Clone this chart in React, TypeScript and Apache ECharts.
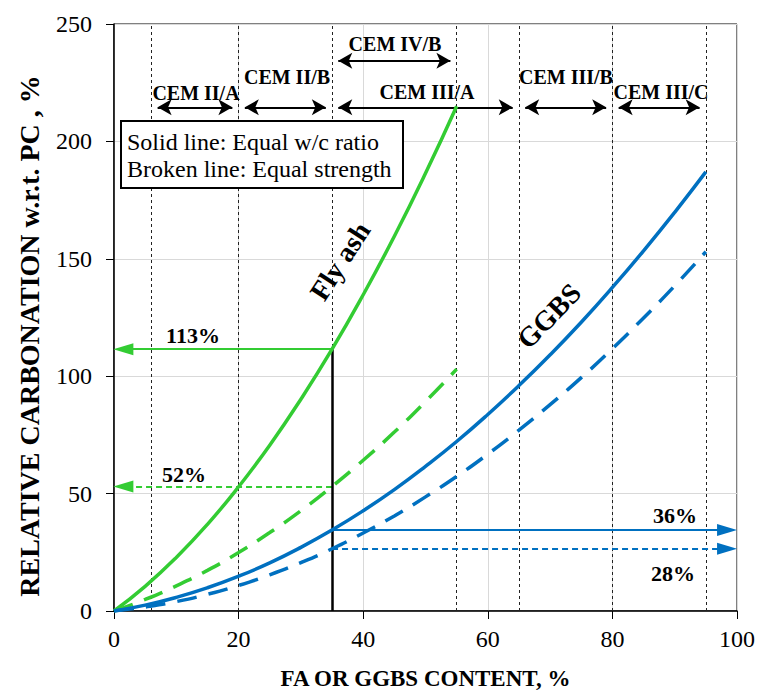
import React, { useEffect, useRef } from "react";
import * as echarts from "echarts";

const xTicks = [0, 20, 40, 60, 80, 100];
const yTicks = [0, 50, 100, 150, 200, 250];

const faContent = [0, 5, 10, 15, 20, 25, 30, 35, 40, 45, 50, 55];
const flyAshEqualWc = [0, 10.5, 22.8, 36.9, 52.9, 70.6, 90.2, 111.5, 134.7, 159.6, 186.4, 215];
const flyAshEqualStrength = [0, 4.9, 10.7, 17.3, 24.9, 33.4, 42.7, 53, 64.2, 76.2, 89.2, 103];

const ggbsContent = [0, 5, 10, 15, 20, 25, 30, 35, 40, 45, 50, 55, 60, 65, 70, 75, 80, 85, 90, 95];
const ggbsEqualWc = [0, 2.5, 5.8, 9.9, 14.8, 20.5, 27.1, 34.5, 42.7, 51.7, 61.6, 72.2, 83.7, 96, 109.1, 123, 137.8, 153.4, 169.8, 187];
const ggbsEqualStrength = [0, 1.7, 4.0, 7.1, 10.9, 15.4, 20.6, 26.5, 33.2, 40.5, 48.6, 57.3, 66.8, 77, 87.9, 99.4, 111.7, 124.8, 138.5, 153];

const cementBoundaries = [6, 20, 35, 55, 65, 80, 95];
const cementRanges: [number, number][] = [[6, 20], [20, 35], [35, 65], [65, 80], [80, 95]];
const cemIVB: [number, number] = [35, 55];
const cementRowY = 214.5;
const cemIVBY = 234.3;

const readAt = 35;
const faWcValue = 111.5;
const faStrValue = 53;
const ggWcValue = 34.5;
const ggStrValue = 26.5;

const GREEN = "#33CC33";
const BLUE = "#0070C0";
const SERIF = '"Liberation Serif", "Times New Roman", serif';

export default function App() {
  const ref = useRef<HTMLDivElement>(null);
  useEffect(() => {
    if (!ref.current) return;
    const chart = echarts.init(ref.current, undefined, { renderer: "svg" });
    const pair = (xs: number[], ys: number[]) => xs.map((x, i) => [x, ys[i]]);

    const arrowOff = 1.0;
    const topArrows = cementRanges.map(([a, b]) => [
      { coord: [a + arrowOff, cementRowY] },
      { coord: [b - arrowOff, cementRowY] },
    ]);
    topArrows.push([
      { coord: [cemIVB[0] + arrowOff, cemIVBY] },
      { coord: [cemIVB[1] - arrowOff, cemIVBY] },
    ]);

    const option: any = {
      animation: false,
      grid: { left: 114, right: 20, top: 24, bottom: 81, show: true, borderColor: "#000", borderWidth: 1 },
      xAxis: {
        type: "value",
        min: xTicks[0],
        max: xTicks[xTicks.length - 1],
        interval: 20,
        name: "FA OR GGBS CONTENT, %",
        nameLocation: "middle",
        nameGap: 56,
        nameTextStyle: { fontFamily: SERIF, fontWeight: "bold", fontSize: 23, color: "#000" },
        axisLine: { lineStyle: { color: "#000", width: 1.5 } },
        axisTick: { show: true, inside: false, length: 8, lineStyle: { color: "#000", width: 1 } },
        axisLabel: { fontFamily: SERIF, fontSize: 24, color: "#000", margin: 16 },
        splitLine: { show: true, lineStyle: { color: "#d9d9d9", width: 1 } },
      },
      yAxis: {
        type: "value",
        min: yTicks[0],
        max: yTicks[yTicks.length - 1],
        interval: 50,
        axisLine: { show: true, lineStyle: { color: "#000", width: 1.5 } },
        axisTick: { show: true, inside: false, length: 8, lineStyle: { color: "#000", width: 1 } },
        axisLabel: { fontFamily: SERIF, fontSize: 24, color: "#000", margin: 22 },
        splitLine: { show: true, lineStyle: { color: "#d9d9d9", width: 1 } },
      },
      series: [
        {
          type: "line",
          name: "Fly ash equal w/c",
          data: pair(faContent, flyAshEqualWc),
          smooth: true,
          showSymbol: false,
          lineStyle: { color: GREEN, width: 3.5 },
          z: 5,
          markLine: {
            silent: true,
            symbol: "none",
            label: { show: false },
            lineStyle: { color: "#222", width: 1, type: [3, 3] },
            data: cementBoundaries.map((v) => ({ xAxis: v })),
          },
        },
        {
          type: "line",
          name: "Fly ash equal strength",
          data: pair(faContent, flyAshEqualStrength),
          smooth: true,
          showSymbol: false,
          lineStyle: { color: GREEN, width: 3.5, type: [20, 12] },
          z: 5,
          markLine: {
            silent: true,
            symbol: ["arrow", "arrow"],
            symbolSize: [12, 14],
            label: { show: false },
            lineStyle: { color: "#000", width: 2, type: "solid" },
            data: topArrows,
          },
        },
        {
          type: "line",
          name: "GGBS equal w/c",
          data: pair(ggbsContent, ggbsEqualWc),
          smooth: true,
          showSymbol: false,
          lineStyle: { color: BLUE, width: 3.5 },
          z: 5,
          markLine: {
            silent: true,
            symbol: ["none", "triangle"],
            symbolSize: [12, 20],
            label: { show: false },
            data: [
              [
                { coord: [readAt, faWcValue], lineStyle: { color: GREEN, width: 2, type: "solid" } },
                { coord: [1.5, faWcValue] },
              ],
              [
                { coord: [readAt, faStrValue], lineStyle: { color: GREEN, width: 2, type: [6, 4] } },
                { coord: [1.5, faStrValue] },
              ],
              [
                { coord: [readAt, ggWcValue], lineStyle: { color: BLUE, width: 2, type: "solid" } },
                { coord: [98.4, ggWcValue] },
              ],
              [
                { coord: [readAt, ggStrValue], lineStyle: { color: BLUE, width: 2, type: [6, 4] } },
                { coord: [98.4, ggStrValue] },
              ],
            ],
          },
        },
        {
          type: "line",
          name: "GGBS equal strength",
          data: pair(ggbsContent, ggbsEqualStrength),
          smooth: true,
          showSymbol: false,
          lineStyle: { color: BLUE, width: 3.5, type: [20, 12] },
          z: 5,
          markLine: {
            silent: true,
            symbol: "none",
            label: { show: false },
            lineStyle: { color: "#000", width: 2.5, type: "solid" },
            data: [[{ coord: [readAt, 0] }, { coord: [readAt, faWcValue] }]],
          },
        },
      ],
      graphic: [
        {
          type: "rect",
          z: 100,
          shape: { x: 121, y: 121, width: 282, height: 67 },
          style: { fill: "#fff", stroke: "#000", lineWidth: 2 },
        },
        {
          type: "text",
          z: 101,
          x: 127,
          y: 142,
          style: { text: "Solid line: Equal w/c ratio", font: `24px ${SERIF}`, fill: "#000", align: "left", verticalAlign: "middle" },
        },
        {
          type: "text",
          z: 101,
          x: 127,
          y: 169,
          style: { text: "Broken line: Equal strength", font: `24px ${SERIF}`, fill: "#000", align: "left", verticalAlign: "middle" },
        },
        ...[
          ["CEM II/A", 196, 93],
          ["CEM II/B", 287, 77],
          ["CEM IV/B", 395, 44],
          ["CEM III/A", 427, 92],
          ["CEM III/B", 566, 77],
          ["CEM III/C", 661, 92],
        ].map(([t, x, y]) => ({
          type: "text",
          z: 101,
          x,
          y,
          style: { text: t, font: `bold 20px ${SERIF}`, fill: "#000", align: "center", verticalAlign: "middle" },
        })),
        ...[
          ["113%", 193, 335],
          ["52%", 184, 474],
          ["36%", 675, 515],
          ["28%", 673, 573],
        ].map(([t, x, y]) => ({
          type: "text",
          z: 101,
          x,
          y,
          style: { text: t, font: `bold 22px ${SERIF}`, fill: "#000", align: "center", verticalAlign: "middle" },
        })),
        {
          type: "text",
          z: 101,
          x: 340,
          y: 261,
          rotation: (57 * Math.PI) / 180,
          style: { text: "Fly ash", font: `bold 28px ${SERIF}`, fill: "#000", align: "center", verticalAlign: "middle" },
        },
        {
          type: "text",
          z: 101,
          x: 549,
          y: 316,
          rotation: (46 * Math.PI) / 180,
          style: { text: "GGBS", font: `bold 28px ${SERIF}`, fill: "#000", align: "center", verticalAlign: "middle" },
        },
        {
          type: "text",
          z: 101,
          x: 29,
          y: 336,
          rotation: Math.PI / 2,
          style: { text: "RELATIVE CARBONATION w.r.t. PC , %", font: `bold 28px ${SERIF}`, fill: "#000", align: "center", verticalAlign: "middle" },
        },
      ],
    };
    chart.setOption(option);
    return () => chart.dispose();
  }, []);
  return <div ref={ref} style={{ position: "absolute", left: 0, top: 0, width: 758, height: 695 }} />;
}
